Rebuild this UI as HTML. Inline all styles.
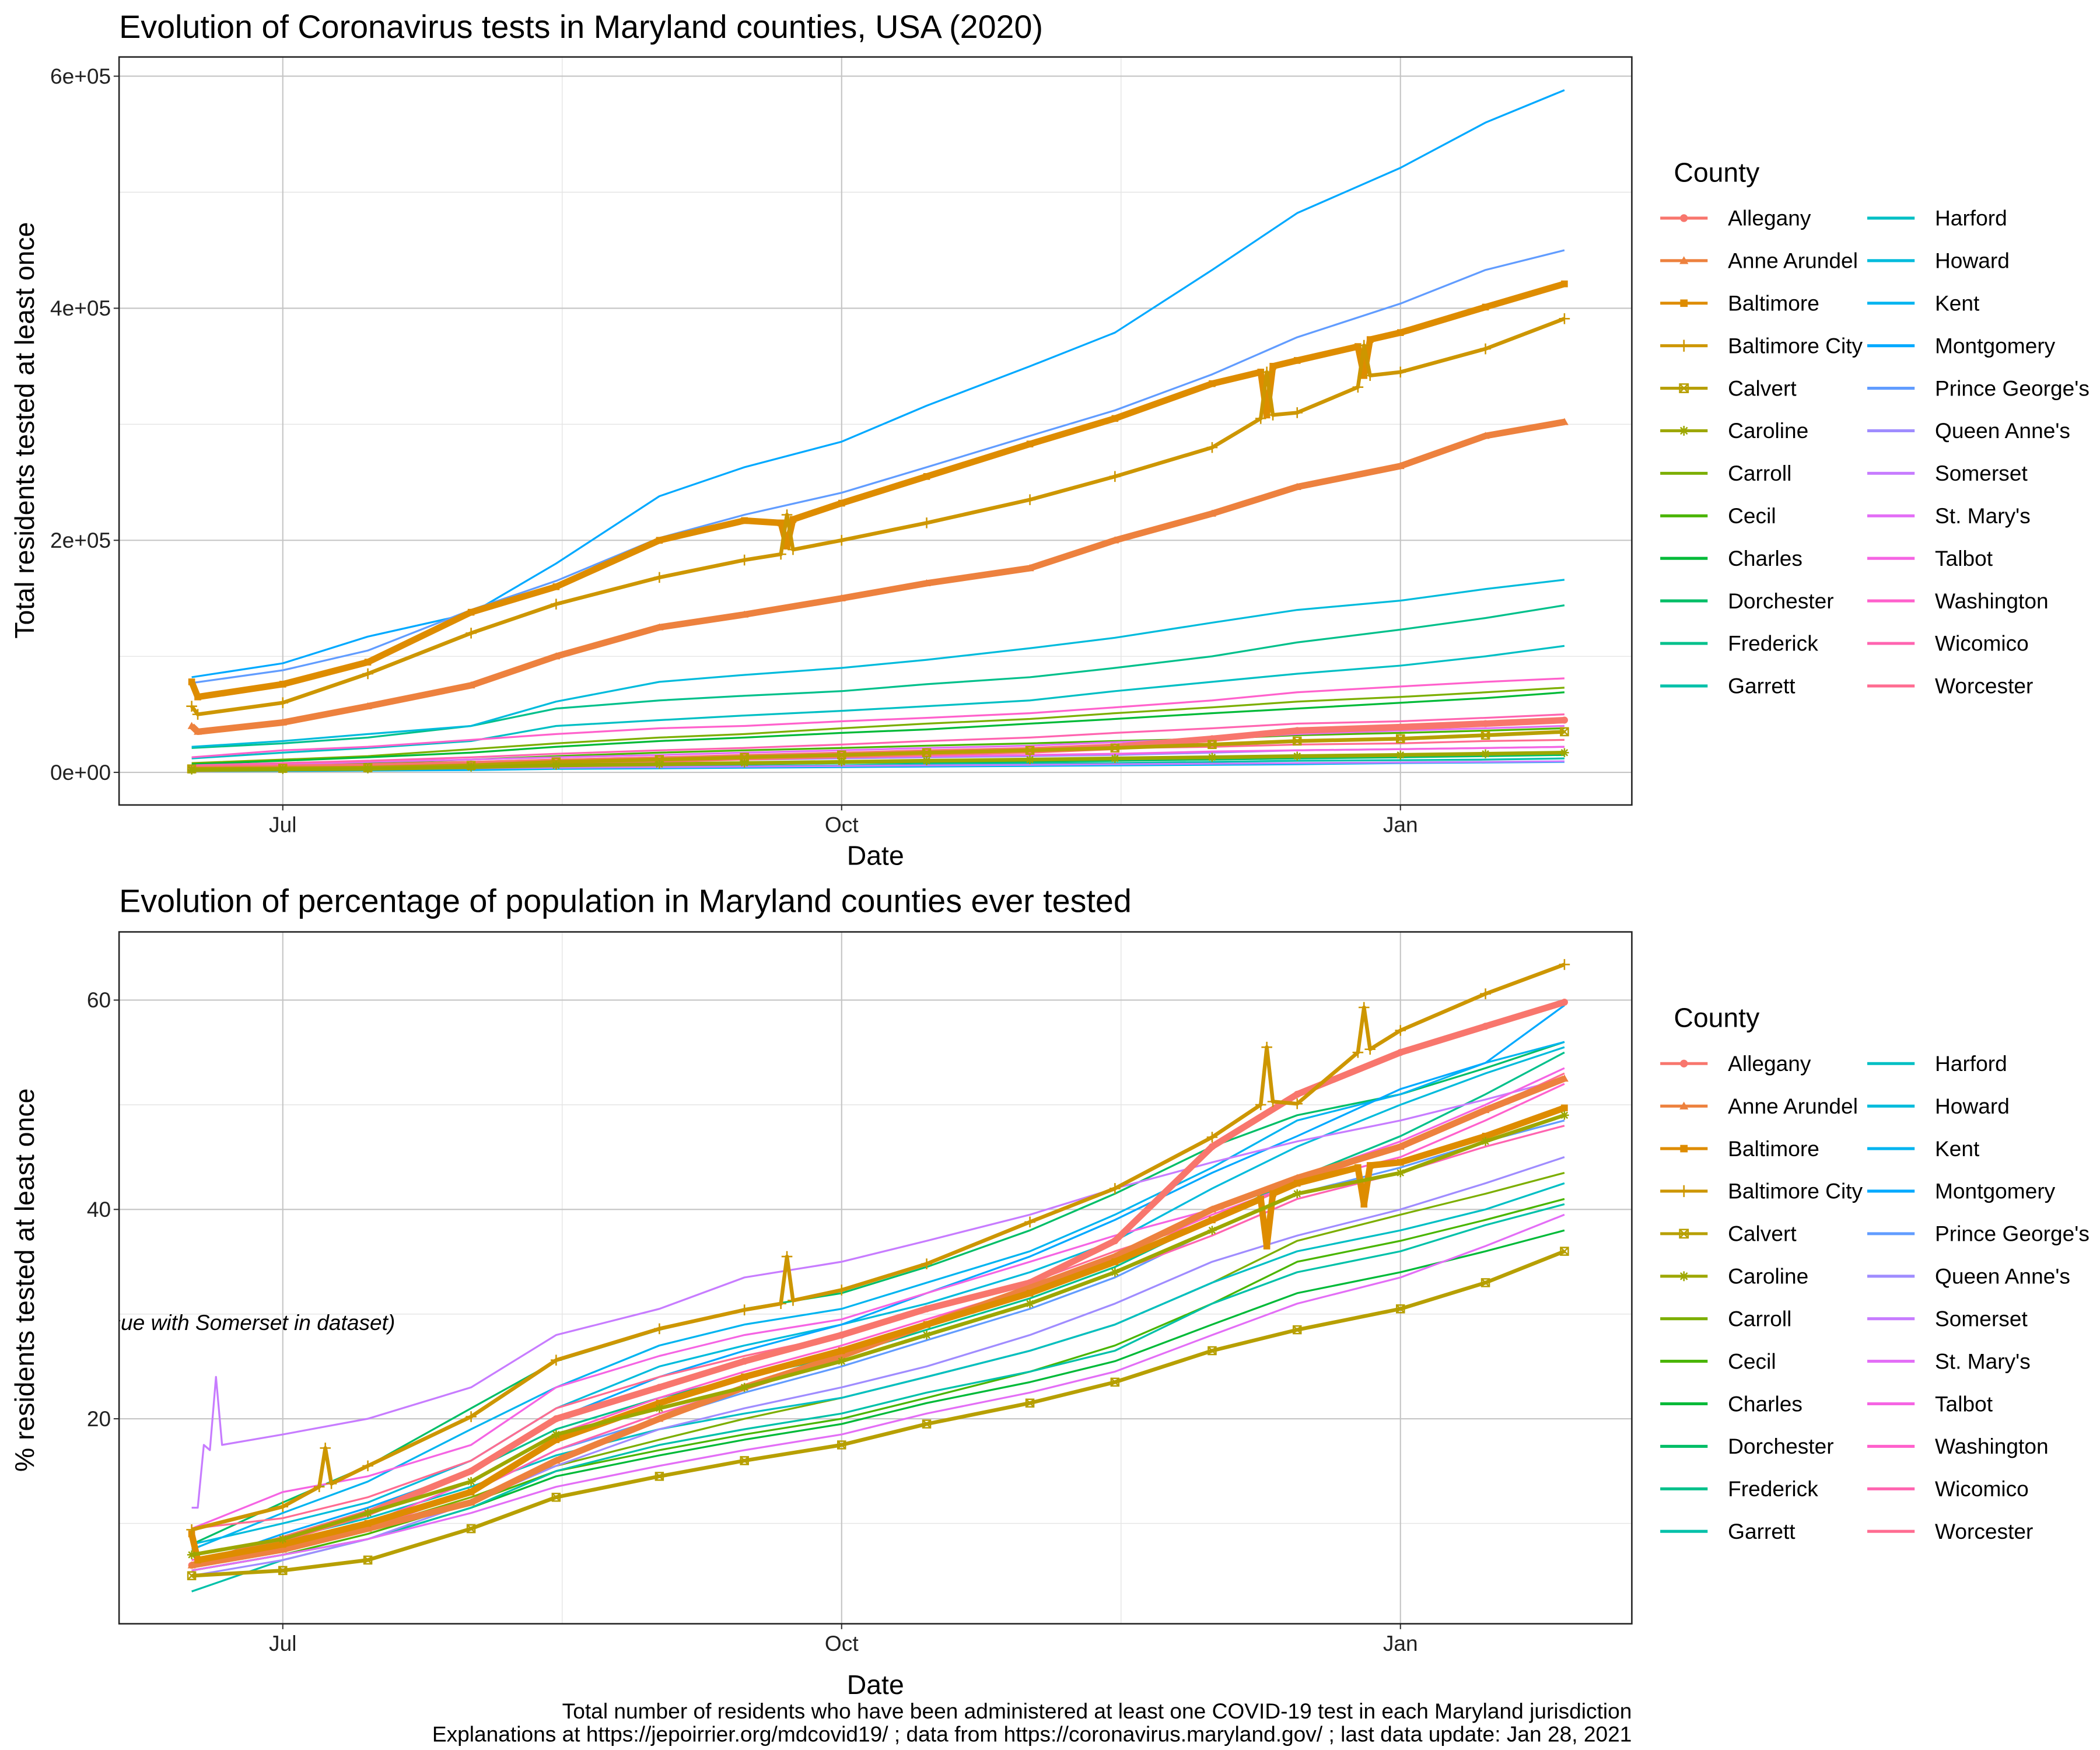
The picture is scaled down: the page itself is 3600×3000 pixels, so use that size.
<!DOCTYPE html>
<html><head><meta charset="utf-8"><style>
html,body{margin:0;padding:0;background:#fff;}
svg{display:block;font-family:"Liberation Sans",Arial,sans-serif;}
</style></head><body>
<svg id="chart" width="3600" height="3000" viewBox="0 0 1552 1293.3" preserveAspectRatio="none" xmlns="http://www.w3.org/2000/svg">
<rect x="0" y="0" width="1552" height="1293.3" fill="#fff"/>
<text x="88" y="28" font-size="24">Evolution of Coronavirus tests in Maryland counties, USA (2020)</text>
<text x="88" y="674" font-size="24">Evolution of percentage of population in Maryland counties ever tested</text>
<text x="647" y="639" font-size="20" text-anchor="middle">Date</text>
<text x="647" y="1252" font-size="20" text-anchor="middle">Date</text>
<text transform="translate(25,318) rotate(-90)" font-size="20" text-anchor="middle">Total residents tested at least once</text>
<text transform="translate(25,946) rotate(-90)" font-size="20" text-anchor="middle">% residents tested at least once</text>
<text x="1206" y="1270" font-size="16" text-anchor="end">Total number of residents who have been administered at least one COVID-19 test in each Maryland jurisdiction</text>
<text x="1206" y="1287" font-size="16" text-anchor="end">Explanations at https://jepoirrier.org/mdcovid19/ ; data from https://coronavirus.maryland.gov/ ; last data update: Jan 28, 2021</text>
<g id="layer"></g>
</svg>
<script>
const dates = ["2020-06-16","2020-07-01","2020-07-15","2020-08-01","2020-08-15","2020-09-01","2020-09-15","2020-10-01","2020-10-15","2020-11-01","2020-11-15","2020-12-01","2020-12-15","2021-01-01","2021-01-15","2021-01-28"];
const counties = ["Allegany","Anne Arundel","Baltimore","Baltimore City","Calvert","Caroline","Carroll","Cecil","Charles","Dorchester","Frederick","Garrett","Harford","Howard","Kent","Montgomery","Prince George's","Queen Anne's","Somerset","St. Mary's","Talbot","Washington","Wicomico","Worcester"];
const shapes = ["circle","triangle","square","plus","boxx","star","","","","","","","","","","","","","","","","","",""];
// top panel: thousands of residents tested
const testsAllegany=[3,4,5,7,9,11,13,15,17,19,22,29,36,39,42,45];
const testsAnneArundel=[40,43,57,75,100,125,136,150,163,176,200,223,246,264,290,302];
const testsBaltimore=[78,76,95,138,160,200,217,232,255,283,305,335,355,379,401,421];
const testsBaltimoreCity=[57,60,85,120,145,168,183,200,215,235,255,280,310,345,365,391];
const testsCalvert=[3,3.5,4,6,9,11,13,15,17,19,21,24,27,29,32,35];
const testsCaroline=[2,2.5,3,4.5,6,7,8,9,10,11,12,13,14,15,16,17];
const testsCarroll=[8,11,14,20,25,30,33,38,42,46,51,56,61,65,69,73];
const testsCecil=[5,6,8,11,14,17,19,21,23,25,27,29,32,34,36,38];
const testsCharles=[7,10,13,17,22,27,30,34,37,42,46,51,55,60,64,69];
const testsDorchester=[1.5,2,3,4,5,6,7,8,8.5,9,10,11,12,13,14,15];
const testsFrederick=[21,25,30,40,55,62,66,70,76,82,90,100,112,123,133,144];
const testsGarrett=[1,1.5,2,3,4,5,5.5,6,7,7.5,8,9,10,10.5,11,12];
const testsHarford=[12,17,21,27,40,45,49,53,57,62,70,78,85,92,100,109];
const testsHoward=[22,27,33,40,61,78,84,90,97,107,116,129,140,148,158,166];
const testsKent=[1,1.2,1.5,2,3,3.5,4,4.5,5,5.5,6,6.5,7,8,8.5,9];
const testsMontgomery=[82,94,117,137,180,238,263,285,316,350,379,433,482,521,560,588];
const testsPrinceGeorges=[77,88,105,140,165,202,222,241,263,290,312,343,375,404,433,450];
const testsQueenAnnes=[2,3,4,6,8,10,11,12,13,14,15,17,19,20,21,22];
const testsSomerset=[2.5,2.8,3,3.5,4,4.5,5,5.5,6,6.5,7,7.5,8,8.5,9,9.5];
const testsStMarys=[5,7,9,11,13,15,17,19,21,23,26,29,33,36,38,40];
const testsTalbot=[3,4,6,8,10,11,12,13,14,15,16,18,19,20,21,22];
const testsWashington=[13,19,22,28,33,38,40,44,47,51,56,62,69,74,78,81];
const testsWicomico=[6,8,10,13,16,19,21,24,27,30,34,38,42,44,47,50];
const testsWorcester=[4,5,7,9,11,13,14,16,17,19,21,22,24,25,27,28];
const topSeries=[testsAllegany,testsAnneArundel,testsBaltimore,testsBaltimoreCity,testsCalvert,testsCaroline,testsCarroll,testsCecil,testsCharles,testsDorchester,testsFrederick,testsGarrett,testsHarford,testsHoward,testsKent,testsMontgomery,testsPrinceGeorges,testsQueenAnnes,testsSomerset,testsStMarys,testsTalbot,testsWashington,testsWicomico,testsWorcester];
const topGlitchBaltimore=[["2020-06-17",65],["2020-09-21",215],["2020-09-22",195],["2020-09-23",218],["2020-12-09",345],["2020-12-10",308],["2020-12-11",350],["2020-12-25",367],["2020-12-26",342],["2020-12-27",373]];
const topGlitchBaltimoreCity=[["2020-06-17",50],["2020-09-21",188],["2020-09-22",222],["2020-09-23",192],["2020-12-09",305],["2020-12-10",345],["2020-12-11",308],["2020-12-25",332],["2020-12-26",368],["2020-12-27",342]];
const topGlitchAnneArundel=[["2020-06-17",35]];
// bottom panel: percent of population
const pctAllegany=[6,8.5,11,15,20,23,25.5,28,30.5,33,37,46,51,55,57.5,59.8];
const pctAnneArundel=[6,7.5,9.5,12,16,20,23,26,29,32.5,35.5,40,43,46,49.5,52.5];
const pctBaltimore=[9,8,10,13,18,21.5,24,26.5,29,32,35,39,42.5,44.5,47,49.7];
const pctBaltimoreCity=[9.4,11.6,15.5,20.2,25.6,28.6,30.4,32.3,34.8,38.8,42,46.9,50.1,57.1,60.6,63.4];
const pctCalvert=[5,5.5,6.5,9.5,12.5,14.5,16,17.5,19.5,21.5,23.5,26.5,28.5,30.5,33,36];
const pctCaroline=[7,8.5,11,14,18.5,21,23,25.5,28,31,34,38,41.5,43.5,46.5,49];
const pctCarroll=[6,7.5,9.5,12.5,15.5,18,20,22,24,26.5,29,33,37,39.5,41.5,43.5];
const pctCecil=[5.5,7,9,12,15,17,18.5,20,22,24.5,27,31,35,37,39,41];
const pctCharles=[5.5,7,8.5,11.5,14.5,16.5,18,19.5,21.5,23.5,25.5,29,32,34,36,38];
const pctDorchester=[8,12,15.5,21,25.5,28.5,30.5,32,34.5,38,41.5,46,49,51,53.5,56];
const pctFrederick=[6,8.5,11,15,19,22,24,26,28.5,31.5,34.5,39,43,47,51,55];
const pctGarrett=[3.5,6.5,8.5,11.5,15,17.5,19,20.5,22.5,24.5,26.5,31,34,36,38.5,40.5];
const pctHarford=[7,8.5,10.5,13.5,16.5,19,20.5,22,24,26.5,29,33,36,38,40,42.5];
const pctHoward=[8,10,12,16,21,25,27,29,31,34,37,42,46,50,53,55.5];
const pctKent=[7.5,11,14,19,23,27,29,30.5,33,36,39.5,44,48.5,51,54,56];
const pctMontgomery=[6,9,11.5,15,20,24,26.5,29,32,35.5,39,43.5,47,51.5,54,59.5];
const pctPrinceGeorges=[6.5,8,10,13,17,20,22.5,25,27.5,30.5,33.5,38,41.5,44,46.5,48.5];
const pctQueenAnnes=[5,6.5,8.5,12,15.5,19,21,23,25,28,31,35,37.5,40,42.5,45];
const pctSomerset=[11.5,18.5,20,23,28,30.5,33.5,35,37,39.5,42,44.5,46.5,48.5,50.5,52.5];
const pctStMarys=[5.5,7,8.5,11,13.5,15.5,17,18.5,20.5,22.5,24.5,28,31,33.5,36.5,39.5];
const pctTalbot=[9.5,13,14.5,17.5,23,26,28,29.5,32,35,37.5,40,43,46.5,50,53.5];
const pctWashington=[6.5,8,10,14,18.5,22,24.5,27,29.5,32.5,35.5,39.5,42.5,45,48.5,52];
const pctWicomico=[6,7.5,9.5,13,17,20.5,23,25.5,28,31,34,37.5,41,43.5,46,48];
const pctWorcester=[9.5,10.5,12.5,16,21,24,26,28,30.5,33,36,39,42.5,46,49.5,53];
const botSeries=[pctAllegany,pctAnneArundel,pctBaltimore,pctBaltimoreCity,pctCalvert,pctCaroline,pctCarroll,pctCecil,pctCharles,pctDorchester,pctFrederick,pctGarrett,pctHarford,pctHoward,pctKent,pctMontgomery,pctPrinceGeorges,pctQueenAnnes,pctSomerset,pctStMarys,pctTalbot,pctWashington,pctWicomico,pctWorcester];
const botGlitchBaltimore=[["2020-06-17",6.5],["2020-12-09",41],["2020-12-10",36.5],["2020-12-11",41.5],["2020-12-25",44],["2020-12-26",40.5],["2020-12-27",44.2]];
const botGlitchBaltimoreCity=[["2020-07-07",13.5],["2020-07-08",17.2],["2020-07-09",13.8],["2020-09-21",31],["2020-09-22",35.5],["2020-09-23",31.3],["2020-12-09",50],["2020-12-10",55.5],["2020-12-11",50.3],["2020-12-25",55],["2020-12-26",59.3],["2020-12-27",55.3]];
const botGlitchSomerset=[["2020-06-17",11.5],["2020-06-18",17.5],["2020-06-19",17],["2020-06-20",24],["2020-06-21",17.5]];
const topTickValues=[0,200,400,600];
const topTickLabels=["0e+00","2e+05","4e+05","6e+05"];
const botTickValues=[20,40,60];
const botTickLabels=["20","40","60"];
const xTickDates=["2020-07-01","2020-10-01","2021-01-01"];
const xTickLabels=["Jul","Oct","Jan"];
const xMinorDates=["2020-08-16","2020-11-16"];

const NS="http://www.w3.org/2000/svg";
const layer=document.getElementById('layer');
function mk(tag,attrs,parent){const e=document.createElementNS(NS,tag);for(const k in attrs)e.setAttribute(k,attrs[k]);(parent||layer).appendChild(e);return e;}
function dayOf(s){const p=s.split('-');return (Date.UTC(+p[0],+p[1]-1,+p[2])-Date.UTC(2020,6,1))/86400000;}
function xScale(s){return 209+dayOf(s)*4.4891;}
const panels=[
 {key:'top',x0:88,x1:1206,y0:42.1,y1:594.9,y:v=>570.8-v*0.8575,series:topSeries,ticks:topTickValues,labels:topTickLabels,minor:[100,300,500],glitch:{2:topGlitchBaltimore,3:topGlitchBaltimoreCity,1:topGlitchAnneArundel},legendTop:127.2},
 {key:'bottom',x0:88,x1:1206,y0:688.7,y1:1200,y:v=>1203.2-v*7.735,series:botSeries,ticks:botTickValues,labels:botTickLabels,minor:[10,30,50],glitch:{2:botGlitchBaltimore,3:botGlitchBaltimoreCity,18:botGlitchSomerset},legendTop:752}
];
function hcl(h,c,l){const wx=95.047,wy=100,wz=108.883;const hr=h*Math.PI/180;const u=c*Math.cos(hr),v=c*Math.sin(hr);
 const Y=l>8?wy*Math.pow((l+16)/116,3):wy*l/903.3;const d=wx+15*wy+3*wz;const u0=4*wx/d,v0=9*wy/d;
 const up=u/(13*l)+u0,vp=v/(13*l)+v0;const X=9*Y*up/(4*vp);
 const Zc=(9*Y/vp-X-15*Y)/3;const x=X/100,y=Y/100,z=Zc/100;
 let r=3.2406*x-1.5372*y-0.4986*z,g=-0.9689*x+1.8758*y+0.0415*z,b=0.0557*x-0.2040*y+1.0570*z;
 const f=t=>{t=t<=0.0031308?12.92*t:1.055*Math.pow(t,1/2.4)-0.055;return Math.max(0,Math.min(255,Math.round(t*255)));};
 return 'rgb('+f(r)+','+f(g)+','+f(b)+')';}
const colors=counties.map((c,i)=>hcl(15+i*15,100,65));
function marker(shape,x,y,col,g,sz){
 let e;
 if(shape==='circle'){e=mk('circle',{cx:x,cy:y,r:2.6*sz,fill:col},g);}
 else if(shape==='triangle'){const s=3*sz;e=mk('polygon',{points:`${x},${y-s} ${x-s},${y+s*0.75} ${x+s},${y+s*0.75}`,fill:col},g);}
 else if(shape==='square'){const s=2.5*sz;e=mk('rect',{x:x-s,y:y-s,width:2*s,height:2*s,fill:col},g);}
 else if(shape==='plus'){const s=4*sz;e=mk('path',{d:`M${x-s},${y}H${x+s}M${x},${y-s}V${y+s}`,stroke:col,'stroke-width':1.1,fill:'none'},g);}
 else if(shape==='boxx'){const s=2.8*sz;e=mk('path',{d:`M${x-s},${y-s}h${2*s}v${2*s}h${-2*s}zM${x-s},${y-s}L${x+s},${y+s}M${x+s},${y-s}L${x-s},${y+s}`,stroke:col,'stroke-width':1.1,fill:'none'},g);}
 else if(shape==='star'){const s=3.3*sz;e=mk('path',{d:`M${x-s},${y}H${x+s}M${x},${y-s}V${y+s}M${x-s*0.7},${y-s*0.7}L${x+s*0.7},${y+s*0.7}M${x+s*0.7},${y-s*0.7}L${x-s*0.7},${y+s*0.7}`,stroke:col,'stroke-width':1.1,fill:'none'},g);}
 return e;}
panels.forEach((P,pi)=>{
 const clipId='clip-'+P.key;
 const cp=mk('clipPath',{id:clipId});mk('rect',{x:P.x0,y:P.y0,width:P.x1-P.x0,height:P.y1-P.y0},cp);
 const grid=mk('g',{});
 
 
 P.minor.forEach(v=>mk('line',{x1:P.x0,x2:P.x1,y1:P.y(v),y2:P.y(v),stroke:'#e4e4e4','stroke-width':0.6},grid));
 xMinorDates.forEach(d=>mk('line',{x1:xScale(d),x2:xScale(d),y1:P.y0,y2:P.y1,stroke:'#e4e4e4','stroke-width':0.6},grid));
 P.ticks.forEach(v=>mk('line',{x1:P.x0,x2:P.x1,y1:P.y(v),y2:P.y(v),stroke:'#c4c4c4','stroke-width':0.9},grid));
 xTickDates.forEach(d=>mk('line',{x1:xScale(d),x2:xScale(d),y1:P.y0,y2:P.y1,stroke:'#c4c4c4','stroke-width':0.9},grid));
 const yAxis=mk('g',{});
 
 
 P.ticks.forEach((v,i)=>{mk('line',{x1:P.x0-4,x2:P.x0,y1:P.y(v),y2:P.y(v),stroke:'#333','stroke-width':0.9},yAxis);
  const t=mk('text',{x:P.x0-6,y:P.y(v)+5.5,'font-size':16,'text-anchor':'end',fill:'#222'},yAxis);t.textContent=P.labels[i];
  
  });
 const xAxis=mk('g',{});
 
 
 xTickDates.forEach((d,i)=>{const x=xScale(d);mk('line',{x1:x,x2:x,y1:P.y1,y2:P.y1+4,stroke:'#333','stroke-width':0.9},xAxis);
  const t=mk('text',{x:x,y:P.y1+20,'font-size':16,'text-anchor':'middle',fill:'#222'},xAxis);t.textContent=xTickLabels[i];
  
  });
 const plot=mk('g',{'clip-path':`url(#${clipId})`});
 
 
 if(P.key==='bottom'){const a=mk('text',{x:292,y:983,'font-size':16,'font-style':'italic','text-anchor':'end'},plot);a.textContent='(Issue with Somerset in dataset)';
  
  }
 const order=counties.map((c,i)=>i).sort((a,b)=>(shapes[a]?1:0)-(shapes[b]?1:0));
 order.forEach(i=>{
  let pts=dates.map((d,k)=>[dayOf(d),P.series[i][k]]);
  (P.glitch[i]||[]).forEach(g=>pts.push([dayOf(g[0]),g[1]]));
  pts.sort((a,b)=>a[0]-b[0]);
  const g=mk('g',{},plot);
  
  
  const dstr=pts.map((p,k)=>(k?'L':'M')+(209+p[0]*4.4891).toFixed(2)+','+P.y(p[1]).toFixed(2)).join('');
  const sw=shapes[i]?(shapes[i]==='plus'||shapes[i]==='boxx'||shapes[i]==='star'?2.8:4.8):1.4;
  mk('path',{d:dstr,fill:'none',stroke:colors[i],'stroke-width':sw,'stroke-linejoin':'round'},g);
  if(shapes[i]) pts.forEach(p=>{const m=marker(shapes[i],209+p[0]*4.4891,P.y(p[1]),colors[i],g,1);
    
    });
 });
 const frame=mk('rect',{x:P.x0,y:P.y0,width:P.x1-P.x0,height:P.y1-P.y0,fill:'none',stroke:'#222','stroke-width':1.1});
 
 
 const lg=mk('g',{});
 
 
 const lt=mk('text',{x:1237,y:P.legendTop+7,'font-size':20},lg);lt.textContent='County';
 
 
 counties.forEach((c,i)=>{
  const col=Math.floor(i/12),row=i%12;const kx=col?1380:1227,ty=P.legendTop+34+row*31.43;
  const e=mk('g',{},lg);
  
  
  mk('line',{x1:kx,x2:kx+35,y1:ty,y2:ty,stroke:colors[i],'stroke-width':2.2},e);
  if(shapes[i]) marker(shapes[i],kx+17.5,ty,colors[i],e,1.1);
  const t=mk('text',{x:kx+50,y:ty+5.5,'font-size':16},e);t.textContent=c;
 });
});
</script>
</body></html>
